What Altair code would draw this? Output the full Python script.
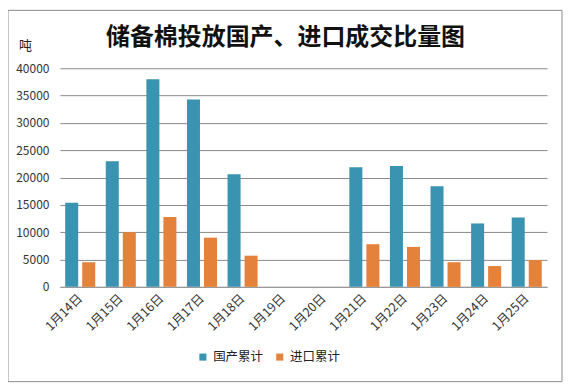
import altair as alt
import pandas as pd

dates = ["1月14日", "1月15日", "1月16日", "1月17日", "1月18日", "1月19日",
         "1月20日", "1月21日", "1月22日", "1月23日", "1月24日", "1月25日"]
domestic = [15400, 23000, 38000, 34300, 20600, None, None, 21900, 22100, 18400, 11600, 12700]
imported = [4500, 10000, 12800, 9000, 5700, None, None, 7800, 7300, 4500, 3800, 4900]
series = ["国产累计", "进口累计"]
colors = ["#3A93B1", "#E4813A"]
y_ticks = [0, 5000, 10000, 15000, 20000, 25000, 30000, 35000, 40000]

rows = []
for d, a, b in zip(dates, domestic, imported):
    if a is not None:
        rows.append({"date": d, "series": series[0], "value": a})
    if b is not None:
        rows.append({"date": d, "series": series[1], "value": b})
df = pd.DataFrame(rows)

FONT = "Noto Sans CJK SC"

bars = alt.Chart(df).mark_bar().encode(
    x=alt.X("date:N", scale=alt.Scale(domain=dates, paddingInner=0.26, paddingOuter=0.13),
            axis=alt.Axis(title=None, labelAngle=-45, labelFontSize=12.5, labelColor="#333333",
                          labelAlign="right", labelBaseline="middle",
                          ticks=False, domain=True, domainColor="#999999", labelPadding=9,
                          labelFont=FONT)),
    xOffset=alt.XOffset("series:N", scale=alt.Scale(domain=series, paddingInner=0.235, paddingOuter=0)),
    y=alt.Y("value:Q", scale=alt.Scale(domain=[0, 40000]),
            axis=alt.Axis(values=y_ticks, format="d", title="吨", titleAngle=0, titleX=-35, titleY=-23,
                          titleAlign="center", titleBaseline="middle", titleFontSize=13,
                          titleFontWeight="normal", titleColor="#222222", titleFont=FONT,
                          labelFontSize=12, labelColor="#333333", labelFont=FONT,
                          ticks=False, domain=False, labelPadding=11,
                          grid=True, gridColor="#8a8a8a", gridWidth=1)),
    color=alt.Color("series:N", scale=alt.Scale(domain=series, range=colors),
                    legend=alt.Legend(title=None, orient="none", legendX=137, legendY=283,
                                      direction="horizontal", symbolType="square",
                                      symbolSize=50, labelFontSize=12.5, labelFont=FONT,
                                      labelColor="#222222", columnPadding=10,
                                      symbolStrokeWidth=0)),
)

frame = alt.Chart(alt.Data(values=[{}])).mark_rect(
    fill="transparent", stroke="#8c8c8c", strokeWidth=1
).encode(x=alt.value(-52), x2=alt.value(503), y=alt.value(-58), y2=alt.value(314))

title = alt.Chart(alt.Data(values=[{}])).mark_text(
    fontSize=24, fontWeight="bold", font=FONT, color="#111111",
    align="center", baseline="middle"
).encode(x=alt.value(226), y=alt.value(-30), text=alt.value("储备棉投放国产、进口成交比量图"))

chart = alt.layer(frame, bars, title).properties(
    width=488, height=219,
    autosize=alt.AutoSizeParams(type="none"),
    padding={"left": 52, "top": 60, "right": 16, "bottom": 97},
    background="white",
).configure_view(stroke=None)

chart.save("out.html", embed_options={"renderer": "svg", "actions": False})
